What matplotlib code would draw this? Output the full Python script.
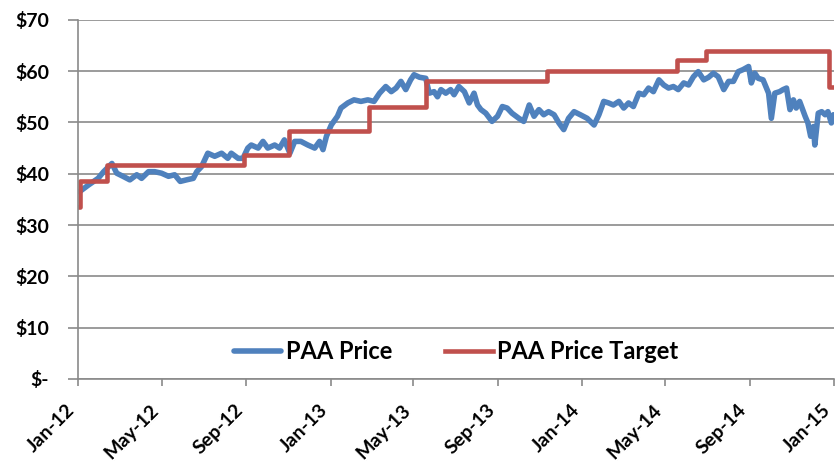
import matplotlib
matplotlib.use("Agg")
import matplotlib.pyplot as plt
import matplotlib.dates as mdates
import pandas as pd

# PAA closing price
price_dates = [
    "2012-01-03", "2012-01-16", "2012-01-30", "2012-02-07", "2012-02-19", "2012-02-26",
    "2012-03-06", "2012-03-16", "2012-03-26", "2012-04-02", "2012-04-12", "2012-04-21",
    "2012-05-01", "2012-05-11", "2012-05-20", "2012-05-28", "2012-06-06", "2012-06-16",
    "2012-06-21", "2012-06-28", "2012-07-07", "2012-07-17", "2012-07-27", "2012-08-05",
    "2012-08-10", "2012-08-20", "2012-08-27", "2012-09-03", "2012-09-08", "2012-09-18",
    "2012-09-25", "2012-10-02", "2012-10-12", "2012-10-19", "2012-10-26", "2012-11-03",
    "2012-11-10", "2012-11-19", "2012-11-29", "2012-12-09", "2012-12-16", "2012-12-21",
    "2012-12-26", "2013-01-02", "2013-01-11", "2013-01-16", "2013-01-26", "2013-02-04",
    "2013-02-14", "2013-02-24", "2013-03-05", "2013-03-13", "2013-03-22", "2013-03-30",
    "2013-04-06", "2013-04-13", "2013-04-20", "2013-04-27", "2013-05-02", "2013-05-10",
    "2013-05-19", "2013-05-24", "2013-05-31", "2013-06-05", "2013-06-10", "2013-06-17",
    "2013-06-24", "2013-06-29", "2013-07-06", "2013-07-14", "2013-07-21", "2013-07-28",
    "2013-08-02", "2013-08-07", "2013-08-14", "2013-08-23", "2013-08-31", "2013-09-07",
    "2013-09-14", "2013-09-21", "2013-10-01", "2013-10-08", "2013-10-16", "2013-10-23",
    "2013-10-30", "2013-11-06", "2013-11-13", "2013-11-21", "2013-11-28", "2013-12-05",
    "2013-12-12", "2013-12-20", "2013-12-29", "2014-01-08", "2014-01-18", "2014-01-25",
    "2014-02-01", "2014-02-08", "2014-02-15", "2014-02-23", "2014-03-02", "2014-03-09",
    "2014-03-16", "2014-03-24", "2014-03-31", "2014-04-07", "2014-04-14", "2014-04-22",
    "2014-04-29", "2014-05-06", "2014-05-13", "2014-05-20", "2014-05-28", "2014-06-04",
    "2014-06-11", "2014-06-18", "2014-06-26", "2014-07-03", "2014-07-10", "2014-07-17",
    "2014-07-25", "2014-08-01", "2014-08-08", "2014-08-15", "2014-08-22", "2014-08-30",
    "2014-09-03", "2014-09-08", "2014-09-13", "2014-09-20", "2014-09-28", "2014-10-02",
    "2014-10-07", "2014-10-14", "2014-10-19", "2014-10-24", "2014-10-29", "2014-11-03",
    "2014-11-07", "2014-11-12", "2014-11-20", "2014-11-24", "2014-11-28", "2014-12-02",
    "2014-12-04", "2014-12-09", "2014-12-14", "2014-12-19", "2014-12-23", "2014-12-28",
    "2014-12-31",
]
price_values = [
    36.5, 37.8, 39.1, 40.4, 42.0, 40.1,
    39.5, 38.8, 39.8, 39.1, 40.4, 40.4,
    40.1, 39.5, 39.8, 38.5, 38.8, 39.1,
    40.4, 41.4, 44.0, 43.4, 44.0, 43.0,
    44.0, 43.0, 43.0, 45.0, 45.6, 45.0,
    46.3, 45.0, 45.6, 45.0, 46.6, 44.0,
    46.3, 46.3, 45.6, 45.0, 46.3, 44.7,
    47.3, 49.5, 51.2, 52.8, 53.8, 54.4,
    54.1, 54.4, 54.1, 55.7, 57.0, 56.0,
    56.7, 58.0, 56.4, 58.3, 59.3, 58.8,
    58.6, 55.7, 56.0, 55.0, 56.4, 55.7,
    56.4, 55.4, 57.0, 56.0, 53.8, 55.7,
    53.4, 52.5, 51.8, 50.2, 51.2, 53.1,
    52.8, 51.8, 50.8, 50.2, 53.4, 51.2,
    52.5, 51.5, 52.1, 51.5, 49.9, 48.6,
    50.8, 52.1, 51.5, 50.8, 49.5, 51.5,
    54.1, 53.8, 53.4, 54.1, 52.8, 53.8,
    53.1, 55.7, 55.4, 56.7, 56.0, 58.3,
    57.3, 56.7, 57.0, 56.4, 57.7, 57.3,
    58.9, 59.9, 58.3, 58.8, 59.6, 58.9,
    56.4, 58.0, 58.0, 59.9, 60.3, 60.9,
    57.7, 59.6, 58.6, 58.3, 55.7, 50.8,
    55.7, 56.0, 56.4, 56.7, 52.5, 54.4,
    52.8, 54.1, 51.2, 49.9, 47.3, 49.2,
    45.6, 51.8, 52.1, 51.5, 52.1, 49.9,
    51.5,
]

# analyst price target (changes on these dates)
target_dates = [
    "2012-01-03", "2012-01-04", "2012-02-12", "2012-08-28", "2012-11-02", "2013-02-25",
    "2013-05-19", "2013-11-11", "2014-05-18", "2014-06-29", "2014-12-24", "2014-12-31",
]
target_values = [33.5, 38.6, 41.7, 43.6, 48.3, 53.1, 58.1, 60.0, 62.1, 64.0, 57.0, 57.0]

y_ticks = [0, 10, 20, 30, 40, 50, 60, 70]
y_labels = ["$-", "$10", "$20", "$30", "$40", "$50", "$60", "$70"]

plt.rcParams["font.family"] = ["Lato", "DejaVu Sans"]
plt.rcParams["font.weight"] = "bold"

grid_col = "#8a8a8a"

fig = plt.figure(figsize=(8.4, 4.61), dpi=100)
ax = fig.add_axes([0.093, 0.178, 0.900, 0.779])

ax.plot(pd.to_datetime(price_dates), price_values, color="#4f81bd", lw=4.0,
        solid_joinstyle="round", solid_capstyle="round", label="PAA Price")
ax.step(pd.to_datetime(target_dates), target_values, where="post", color="#c0504d",
        lw=3.3, label="PAA Price Target")

ax.set_xlim(pd.Timestamp("2012-01-01"), pd.Timestamp("2015-01-01"))
ax.set_ylim(0, 70)
ax.set_yticks(y_ticks, y_labels)

ax.xaxis.set_major_locator(mdates.MonthLocator(bymonth=[1, 5, 9]))
ax.xaxis.set_major_formatter(mdates.DateFormatter("%b-%y"))
# rotated box ends at the tick, so the last label stays inside the figure
ax.tick_params(axis="x", labelrotation=45)
for lbl in ax.get_xticklabels():
    lbl.set_ha("right")
    lbl.set_va("top")

ax.grid(axis="y", color=grid_col, lw=1.2)
ax.set_axisbelow(True)
for s in ["top", "right"]:
    ax.spines[s].set_visible(False)
for s in ["left", "bottom"]:
    ax.spines[s].set_color(grid_col)
    ax.spines[s].set_linewidth(1.2)

ax.tick_params(axis="y", direction="out", length=7, width=1.2, color=grid_col,
               labelsize=14, pad=14)
ax.tick_params(axis="x", direction="out", length=5, width=1.2, color=grid_col,
               labelsize=14, pad=11)

ax.legend(loc="lower center", bbox_to_anchor=(0.5, -0.015), ncol=2, frameon=False,
          fontsize=17, handlelength=2.0, handletextpad=0.2, columnspacing=2.25)

fig.savefig("out.png", dpi=100)
